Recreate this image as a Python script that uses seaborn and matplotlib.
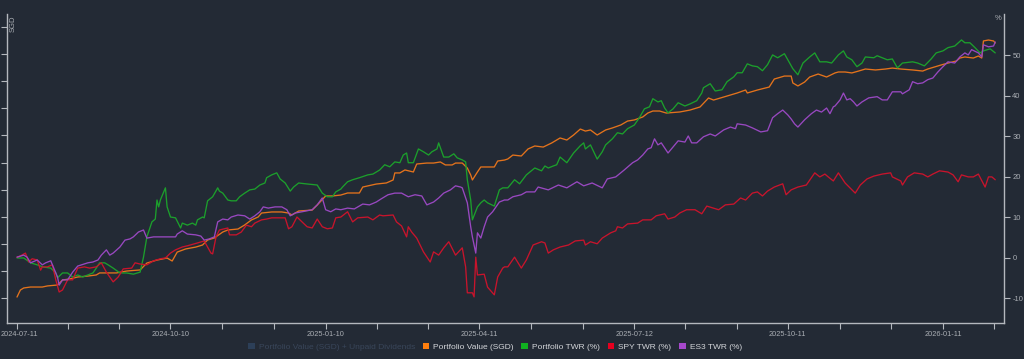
import matplotlib
matplotlib.use("Agg")
import matplotlib.pyplot as plt
import matplotlib.transforms as mtransforms
import numpy as np
import pandas as pd
import seaborn as sns
from matplotlib.patches import Patch

# ---------------- data ----------------
START = "2024-07-11"

value_days = [0,2,4,8,15,18,24,27,31,36,42,47,49,59,65,73,77,83,89,92,95,100,106,110,113,117,122,125,131,135,
              139,143,145,151,157,161,163,167,175,178,183,187,192,196,203,205,213,219,223,224,227,230,235,237,243,247,251,254,258,260,
              264,267,269,270,273,275,280,283,285,289,291,294,299,303,307,312,317,322,326,330,334,337,340,344,349,353,358,362,366,371,
              374,377,381,385,393,399,405,410,413,419,427,432,433,439,446,449,455,459,460,463,467,470,475,480,485,487,491,495,499,503,
              509,515,519,524,531,537,540,544,548,552,557,559,562,567,570,572,573,576,579,580]
value_sgd = [20700,25900,27400,28100,28100,28900,29600,33300,34000,35500,36200,37000,38500,38500,39900,40700,45800,48000,49500,47300,
             53900,56200,57600,59100,62800,64300,68700,70200,70900,73900,77600,79800,82700,83500,83500,82700,81300,84200,84900,88600,
             95300,95300,96000,97500,97500,101900,104100,104900,107100,112300,112300,114500,113000,118900,119600,119600,120400,118200,118200,119600,
             119600,115900,110800,107100,113000,116700,116700,116700,121100,121800,122600,125500,124800,130000,132200,131400,134400,138100,136600,140300,
             144700,143200,144000,140300,144000,145500,147700,150600,151400,153600,156500,158000,158000,156500,157300,158700,161000,167600,166100,168300,
             171300,173500,171300,173500,175700,181600,183800,183800,178700,176500,179400,183100,185300,183100,186100,186800,186800,186100,187500,189000,
             188300,189000,189700,189000,188300,187500,189000,190500,192000,193400,194900,197100,197900,197100,198600,197100,209700,210400,209700,208200]

twr_days = [0,4,8,12,14,15,20,23,24,27,30,33,36,39,42,45,47,49,52,54,57,61,65,69,73,75,77,80,82,83,
            84,85,88,89,91,94,97,98,101,104,106,107,110,111,113,116,119,120,122,125,127,130,132,135,138,141,144,147,148,151,
            154,156,159,162,164,167,171,178,181,184,187,189,192,193,196,199,203,208,211,215,218,221,224,227,229,231,232,235,238,241,
            244,246,249,250,253,256,259,261,264,266,267,269,270,273,275,277,279,283,286,288,291,295,298,302,307,311,313,315,318,320,
            322,326,330,334,336,337,340,344,347,349,353,356,359,362,366,369,372,375,377,380,382,384,386,389,392,396,399,403,406,407,
            411,414,418,421,425,427,430,433,436,439,442,445,448,451,455,457,460,463,466,470,473,476,480,483,487,490,492,495,498,501,
            503,508,510,516,519,522,525,531,534,538,542,545,549,552,556,560,562,565,568,571,573,577,580]
twr_pct = [0.0,0.0,-1.2,-1.7,-2.0,-2.2,-2.5,-3.7,-4.9,-3.7,-3.7,-4.7,-4.2,-4.7,-4.2,-3.7,-2.5,-1.2,-1.2,-1.7,
           -2.5,-3.7,-3.7,-4.0,-3.5,0.2,5.2,8.9,9.6,14.3,12.6,14.3,17.3,12.6,10.1,9.9,7.4,8.6,8.1,8.6,
           8.1,9.4,10.1,9.9,14.1,15.1,17.3,16.5,16.0,14.3,14.1,14.1,15.1,16.0,16.8,17.0,18.0,18.5,19.8,20.5,
           21.0,19.5,18.5,16.5,17.5,18.5,18.3,18.0,16.0,15.1,15.1,16.3,17.0,17.5,18.8,19.3,19.8,20.5,20.7,21.7,
           23.0,22.5,23.7,23.5,25.4,25.9,23.5,23.5,26.9,26.2,25.4,26.2,26.9,28.4,24.9,24.9,25.7,24.7,24.2,23.7,
           19.3,14.3,9.4,12.6,13.6,14.3,13.6,12.8,16.8,17.3,17.3,19.3,18.3,20.5,22.2,21.5,22.7,22.2,22.7,23.0,
           24.9,23.5,25.9,27.7,28.4,26.9,27.9,24.4,26.2,27.9,29.4,30.9,30.6,31.9,32.8,34.6,36.8,37.3,39.3,38.5,
           38.8,37.0,35.8,36.8,38.3,37.5,38.0,38.8,40.7,42.0,43.0,41.2,41.5,43.5,44.7,45.7,45.7,47.9,47.4,47.2,
           46.2,47.7,50.1,49.4,50.4,48.9,46.7,45.2,48.1,49.6,50.6,48.4,48.4,48.1,50.1,51.1,49.6,48.9,47.2,48.1,
           49.6,49.4,49.9,48.9,49.1,46.9,48.1,48.4,48.1,47.4,49.1,50.6,51.1,51.9,52.3,53.8,53.1,53.1,51.9,50.6,
           51.1,51.6,50.6]

spy_days = [0,2,5,7,9,12,14,15,18,21,23,25,27,30,33,36,40,43,47,50,53,57,60,63,68,70,73,77,81,85,
            88,91,94,98,101,107,111,113,115,116,118,120,125,126,130,133,136,139,141,145,148,151,156,159,161,163,166,169,172,175,
            178,181,184,187,189,192,196,199,202,208,211,215,217,223,225,228,231,232,234,237,241,245,247,250,253,256,260,264,266,267,
            270,271,272,273,277,279,283,285,288,289,291,295,299,302,306,311,313,315,318,322,327,331,336,337,340,344,347,352,355,356,
            359,362,368,371,376,379,384,386,390,393,397,402,406,409,413,416,420,425,429,432,436,439,442,445,449,454,456,459,463,468,
            473,476,479,481,484,487,491,497,500,504,508,513,518,519,524,525,528,532,537,540,543,547,552,555,558,560,564,567,570,574,
            576,578,580]
spy_pct = [0.2,0.5,1.2,-1.0,-0.2,-0.5,-3.0,-2.2,-2.2,-1.7,-5.4,-8.4,-7.9,-5.4,-5.4,-2.5,-2.2,-2.5,-2.2,-1.2,
           -3.5,-5.9,-4.7,-2.7,-2.5,-1.2,-1.5,-1.7,-0.7,-0.2,0.0,1.2,2.0,2.7,3.0,3.7,4.2,2.7,1.2,1.0,
           5.2,6.9,7.4,5.7,5.7,6.4,8.1,7.7,8.6,9.4,9.6,9.9,9.9,9.9,7.2,7.7,10.1,8.9,7.7,7.4,
           9.6,7.7,7.2,7.4,9.9,10.1,11.4,8.9,9.9,10.1,9.4,10.6,10.4,10.6,8.9,7.9,5.2,7.7,6.4,4.9,
           1.5,-1.0,1.5,0.7,2.5,4.0,0.7,2.5,-2.2,-8.6,-8.6,-9.6,0.2,-4.2,-4.0,-7.2,-9.1,-4.7,-2.5,-2.2,
           -2.2,0.2,-2.5,-0.5,3.2,4.0,3.7,1.2,2.0,2.7,3.2,4.2,4.4,3.2,4.0,3.5,4.9,6.2,6.7,7.7,
           7.4,8.4,8.6,9.4,9.4,10.4,10.9,9.6,10.1,11.1,11.9,11.9,10.9,12.8,12.3,11.9,13.1,13.3,14.8,14.3,
           16.0,16.3,15.3,16.5,17.5,18.3,15.6,16.8,17.5,18.0,21.0,20.0,20.7,20.0,19.0,21.0,18.5,16.0,18.0,19.5,
           20.2,20.7,21.0,20.0,19.0,18.0,20.0,21.0,20.7,20.0,20.7,21.5,21.2,20.5,18.8,20.5,20.0,20.0,20.7,17.5,
           20.0,20.0,19.3]

es3_days = [0,4,6,8,12,15,17,20,21,24,25,27,30,33,36,42,45,48,50,53,55,57,61,64,67,69,72,75,77,81,
            85,89,94,95,98,101,106,109,111,114,117,119,122,125,127,131,135,138,141,144,146,149,153,157,160,162,165,169,175,178,
            181,183,186,189,192,196,200,205,209,213,216,220,224,228,232,236,240,243,247,250,253,257,260,263,264,267,269,270,272,273,
            275,277,279,282,286,289,291,294,299,302,307,309,315,321,326,332,336,341,347,350,355,358,360,365,368,371,374,376,378,380,
            382,386,389,392,396,398,400,403,407,411,414,419,423,426,427,432,436,441,445,448,451,454,457,459,461,463,467,471,474,477,
            480,482,484,485,488,490,492,494,496,498,501,505,510,513,516,519,524,525,529,531,534,537,540,543,546,549,552,556,559,562,
            564,566,570,572,573,576,579,580]
es3_pct = [0.2,0.7,0.2,-1.2,-0.5,-1.7,-1.2,-0.7,-1.7,-4.7,-6.7,-5.4,-5.4,-3.5,-2.0,-1.2,-1.0,-0.5,0.7,2.0,
           0.7,1.2,2.7,4.4,4.7,5.2,6.4,6.9,4.9,5.2,5.2,5.2,5.2,5.9,6.7,5.9,5.7,5.4,4.4,4.7,
           5.2,8.9,9.6,9.4,10.1,10.6,10.4,9.6,10.4,11.4,12.6,12.3,12.6,12.6,11.9,10.4,11.1,11.4,11.9,13.1,
           14.8,11.9,11.4,12.1,11.9,12.3,12.1,13.3,13.1,13.8,14.6,15.6,16.0,16.0,15.1,15.6,15.3,13.1,13.8,14.8,
           16.0,16.8,17.8,17.5,17.3,13.6,7.7,5.2,1.2,6.2,4.9,7.7,10.1,11.4,13.8,14.3,14.3,15.1,15.6,16.3,
           16.3,17.5,16.8,18.0,17.3,18.8,17.8,18.5,17.3,19.5,20.0,21.0,21.7,23.5,24.2,25.4,26.9,27.2,29.4,27.9,
           28.4,25.9,27.4,28.9,28.6,30.1,28.4,28.4,29.9,30.6,30.1,31.6,32.3,31.9,33.1,32.8,32.1,31.1,31.4,34.6,
           35.6,36.5,35.3,34.3,33.1,32.3,34.1,35.6,36.5,36.0,37.0,35.6,37.3,37.5,39.0,40.7,39.0,39.3,38.5,37.5,
           38.5,39.5,39.8,39.0,39.0,41.0,41.0,40.5,41.5,43.5,43.0,43.2,44.0,44.4,45.9,47.2,48.4,48.1,49.6,50.6,
           50.1,51.4,50.6,49.6,52.6,52.1,52.3,53.3]

x_tick_labels = ["2024-07-11", "2024-10-10", "2025-01-10", "2025-04-11",
                 "2025-07-12", "2025-10-11", "2026-01-11"]
right_ticks = [-10, 0, 10, 20, 30, 40, 50]
left_ticks = [20000, 40000, 60000, 80000, 100000, 120000, 140000, 160000, 180000, 200000, 220000]
legend_labels = ["Portfolio Value (SGD) + Unpaid Dividends", "Portfolio Value (SGD)",
                 "Portfolio TWR (%)", "SPY TWR (%)", "ES3 TWR (%)"]

# ---------------- style ----------------
BG = "#232a35"
AXIS = "#b4b8be"
TXT = "#a9adb3"
C_ORANGE = "#e4731c"
C_GREEN = "#1c9f2c"
C_RED = "#c8142c"
C_PURPLE = "#9848c0"
LEG_COLS = ["#2c3f58", "#ff7f0e", "#10b020", "#e6001f", "#a648cc"]

sns.set_theme(style="dark")
plt.rcParams["font.family"] = ["Liberation Sans", "DejaVu Sans"]

start = pd.Timestamp(START)
to_dates = lambda d: start + pd.to_timedelta(np.asarray(d), unit="D")

fig = plt.figure(figsize=(10.24, 3.59), dpi=100, facecolor=BG)
L, R, T, B = 7, 1004, 14, 323
ax = fig.add_axes([L / 1024, 1 - B / 359, (R - L) / 1024, (B - T) / 359])
ax.set_facecolor(BG)
ax2 = ax.twinx()
ax2.patch.set_visible(False)

sns.lineplot(x=to_dates(value_days), y=value_sgd, ax=ax, color=C_ORANGE, linewidth=0.95)
sns.lineplot(x=to_dates(twr_days), y=twr_pct, ax=ax2, color=C_GREEN, linewidth=0.95)
sns.lineplot(x=to_dates(spy_days), y=spy_pct, ax=ax2, color=C_RED, linewidth=0.95)
sns.lineplot(x=to_dates(es3_days), y=es3_pct, ax=ax2, color=C_PURPLE, linewidth=0.95)

ax.set_xlim(start - pd.Timedelta(days=5.93), start + pd.Timedelta(days=585.2))
ax.set_ylim(1550, 229600)
ax2.set_ylim(-16.05, 60.2)

for a in (ax, ax2):
    a.grid(False)
    a.set_xlabel("")
    a.set_ylabel("")
    for s in a.spines.values():
        s.set_visible(False)
ax.spines["left"].set_visible(True)
ax.spines["bottom"].set_visible(True)
ax2.spines["right"].set_visible(True)
for s in (ax.spines["left"], ax.spines["bottom"], ax2.spines["right"]):
    s.set_color(AXIS)
    s.set_linewidth(1.0)

# x ticks
majors = pd.to_datetime(x_tick_labels)
minors = []
for i in range(len(majors) - 1):
    gap = majors[i + 1] - majors[i]
    minors += [majors[i] + gap / 3, majors[i] + 2 * gap / 3]
minors.append(majors[-1] + pd.Timedelta(days=30.5))
ax.set_xticks(majors)
ax.set_xticklabels(x_tick_labels)
ax.set_xticks(minors, minor=True)
ax.tick_params(axis="x", which="both", direction="out", length=4, width=0.8,
               color=AXIS, labelcolor=TXT, labelsize=5.3, pad=2, bottom=True)
first = ax.get_xticklabels()[0]
first.set_transform(first.get_transform() +
                    mtransforms.ScaledTranslation(2 / 100, 0, fig.dpi_scale_trans))

ax.set_yticks(left_ticks)
ax.tick_params(axis="y", direction="out", length=4, width=0.8, color=AXIS,
               labelleft=False, left=True)
ax2.set_yticks(right_ticks)
ax2.set_yticklabels([str(v) for v in right_ticks])
ax2.tick_params(axis="y", direction="out", length=4, width=0.8, color=AXIS,
                labelcolor=TXT, labelsize=5.5, pad=2, right=True)

fig.text(13 / 1024, 1 - 24 / 359, "SGD", rotation=90, ha="center", va="center",
         color=TXT, fontsize=5.5)
fig.text(998 / 1024, 1 - 19 / 359, "%", ha="center", va="center", color=TXT, fontsize=5.5)

handles = [Patch(facecolor=c, edgecolor="none") for c in LEG_COLS]
leg = fig.legend(handles, legend_labels, loc="center", bbox_to_anchor=(495 / 1024, 1 - 347 / 359),
                 ncol=5, frameon=False, fontsize=6.0, handlelength=0.8, handleheight=0.8,
                 handletextpad=0.5, columnspacing=0.9, borderaxespad=0)
for i, t in enumerate(leg.get_texts()):
    t.set_color("#39465a" if i == 0 else "#d4d6da")

fig.savefig("out.png", dpi=100, facecolor=BG)
